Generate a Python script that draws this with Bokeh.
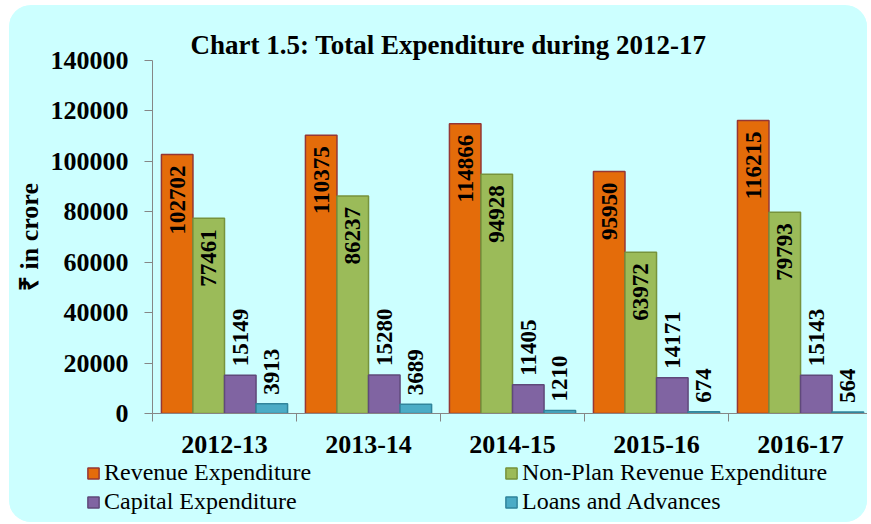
import numpy as np
from bokeh.plotting import figure
from bokeh.layouts import column, row
from bokeh.models import (ColumnDataSource, Range1d, FixedTicker, Legend, LegendItem,
                          BasicTickFormatter)
from bokeh.embed import file_html
from bokeh.resources import INLINE
from bokeh.core.properties import value

# ---- data ----
years = ["2012-13", "2013-14", "2014-15", "2015-16", "2016-17"]
revenue = [102702, 110375, 114866, 95950, 116215]
nonplan = [77461, 86237, 94928, 63972, 79793]
capital = [15149, 15280, 11405, 14171, 15143]
loans = [3913, 3689, 1210, 674, 564]
series_names = ["Revenue Expenditure", "Non-Plan Revenue Expenditure",
                "Capital Expenditure", "Loans and Advances"]
y_ticks = [0, 20000, 40000, 60000, 80000, 100000, 120000, 140000]

# ---- styles ----
fills = ["#E46C0A", "#9BBB59", "#8064A2", "#4BACC6"]
lines = ["#953735", "#77933C", "#5F497A", "#31859C"]
FONT = "Liberation Serif"
BG = "#CCFFFF"
AXIS = "#868686"
bar_w = 0.219
W = 858

p = figure(width=W, height=453, x_range=Range1d(0, 4.965), y_range=Range1d(0, 140000),
           output_backend="svg", toolbar_location=None,
           title="Chart 1.5: Total Expenditure during 2012-17",
           min_border_left=143, min_border_right=0, min_border_top=55, min_border_bottom=45)
p.background_fill_color = BG
p.border_fill_color = BG
p.outline_line_alpha = 0
p.xgrid.visible = False
p.ygrid.visible = False

p.title.text_font = FONT
p.title.text_font_size = "27px"
p.title.text_font_style = "bold"
p.title.text_color = "black"
p.title.align = "left"
p.title.offset = 38
p.title.standoff = 2

centers = [i + 0.5 for i in range(len(years))]
values = [revenue, nonplan, capital, loans]
sources = []
for k, (vals, fc, lc) in enumerate(zip(values, fills, lines)):
    xs = [c + (k - 1.5) * bar_w for c in centers]
    src = ColumnDataSource(dict(x=xs, top=vals, label=[str(v) for v in vals]))
    sources.append(src)
    p.vbar(x="x", top="top", width=bar_w, bottom=0, source=src,
           fill_color=fc, line_color=lc, line_width=1.5)
    inside = k < 2
    p.text(x="x", y="top", text="label", source=src, angle=np.pi / 2,
           text_align="right" if inside else "left", text_baseline="middle",
           y_offset=11 if inside else -9,
           text_font=value(FONT), text_font_style="bold", text_font_size="23px",
           text_color="black")

# x axis
xa = p.xaxis[0]
xa.ticker = FixedTicker(ticks=centers, minor_ticks=list(range(len(years) + 1)))
xa.major_label_overrides = {c: y for c, y in zip(centers, years)}
xa.major_tick_out = 0
xa.major_tick_in = 0
xa.minor_tick_out = 8
xa.minor_tick_in = 0
xa.minor_tick_line_color = AXIS
xa.axis_line_color = AXIS
xa.major_label_standoff = 14
xa.major_label_text_font = FONT
xa.major_label_text_font_size = "26px"
xa.major_label_text_font_style = "bold"
xa.major_label_text_color = "black"

# y axis
ya = p.yaxis[0]
ya.ticker = FixedTicker(ticks=y_ticks, minor_ticks=[])
ya.formatter = BasicTickFormatter(use_scientific=False)
ya.major_tick_out = 8
ya.major_tick_in = 0
ya.major_tick_line_color = AXIS
ya.axis_line_color = AXIS
ya.major_label_standoff = 16
ya.major_label_text_font = FONT
ya.major_label_text_font_size = "26px"
ya.major_label_text_font_style = "bold"
ya.major_label_text_color = "black"
ya.axis_label = "₹ in crore"
ya.axis_label_text_font = FONT
ya.axis_label_text_font_size = "26px"
ya.axis_label_text_font_style = "bold"
ya.axis_label_text_color = "black"
ya.axis_label_standoff = 4

# legend strip below the chart
q = figure(width=W, height=64, x_range=Range1d(0, 1), y_range=Range1d(0, 1),
           output_backend="svg", toolbar_location=None,
           x_axis_location=None, y_axis_location=None,
           min_border_left=0, min_border_right=0, min_border_top=0, min_border_bottom=0)
q.background_fill_color = BG
q.border_fill_color = BG
q.outline_line_alpha = 0
q.xgrid.visible = False
q.ygrid.visible = False
leg_renderers = []
for src, fc, lc in zip(sources, fills, lines):
    r = q.vbar(x="x", top="top", width=bar_w, bottom=0, source=src,
               fill_color=fc, line_color=lc, line_width=1.5, visible=False)
    leg_renderers.append(r)
legend = Legend(items=[LegendItem(label=n, renderers=[r]) for n, r in zip(series_names, leg_renderers)],
                location=(77, 7), orientation="horizontal", ncols=2,
                glyph_width=14, glyph_height=14, label_standoff=4, label_width=398,
                label_height=27, spacing=2, padding=0, margin=0,
                background_fill_alpha=0, border_line_alpha=0, inactive_fill_alpha=0,
                label_text_font=FONT, label_text_font_size="24px", label_text_color="black")
q.add_layout(legend)

layout = column(p, row(q), spacing=0)
layout.styles = {"border-radius": "22px", "overflow": "hidden", "background-color": BG,
                 "margin-left": "9px", "margin-top": "5px"}

open("out.html", "w").write(file_html(layout, INLINE))
